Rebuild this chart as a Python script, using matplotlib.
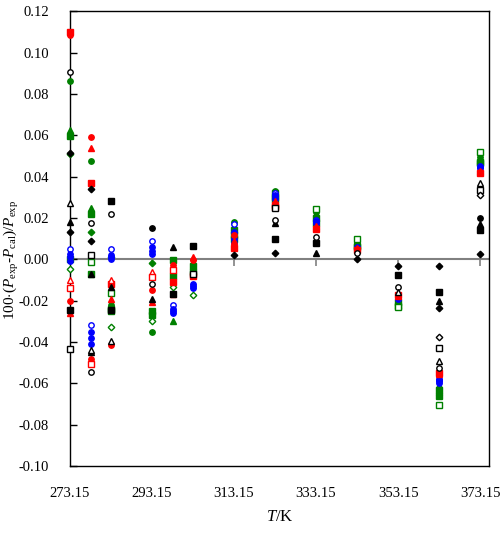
import numpy as np
import matplotlib
matplotlib.use("Agg")
import matplotlib.pyplot as plt

nan = np.nan
T = [273.15, 278.15, 283.15, 293.15, 298.15, 303.15, 313.15, 323.15, 333.15, 343.15, 353.15, 363.15, 373.15]
xtick_vals = [273.15, 293.15, 313.15, 333.15, 353.15, 373.15]
ytick_vals = [-0.10, -0.08, -0.06, -0.04, -0.02, 0.00, 0.02, 0.04, 0.06, 0.08, 0.10, 0.12]

# black series
k_fdiam = [0.0515, 0.0338, nan, nan, nan, nan, 0.0020, 0.0030, nan, 0.0000, -0.0032, -0.0034, 0.0024]
k_fdiam2 = [0.0132, 0.0087, nan, nan, nan, nan, nan, nan, nan, nan, nan, -0.0234, nan]
k_fsq = [-0.0247, nan, 0.0280, nan, -0.0166, 0.0064, nan, 0.0097, 0.0077, nan, -0.0075, -0.0158, 0.0144]
k_fsq2 = [nan, nan, -0.0247, nan, nan, nan, nan, nan, nan, nan, nan, nan, nan]
k_ftri = [0.0180, -0.0450, -0.0134, -0.0190, 0.0060, nan, nan, 0.0174, 0.0029, nan, nan, -0.0199, 0.0170]
k_ftri2 = [nan, -0.0069, nan, nan, nan, nan, nan, nan, nan, nan, nan, nan, nan]
k_ocirc = [0.0904, 0.0176, 0.0221, -0.0121, nan, nan, nan, 0.0189, 0.0108, 0.0030, -0.0135, -0.0525, nan]
k_ocirc2 = [nan, -0.0546, nan, nan, nan, nan, nan, nan, nan, nan, nan, nan, nan]
k_osq = [-0.0433, 0.0023, nan, nan, nan, -0.0070, nan, 0.0247, nan, nan, nan, -0.0430, 0.0334]
k_otri = [0.0273, -0.0440, -0.0396, nan, nan, nan, nan, nan, nan, nan, -0.0160, -0.0490, 0.0370]
k_odiam = [nan, nan, nan, nan, nan, nan, nan, nan, nan, nan, nan, -0.0376, 0.0310]
k_fcirc = [nan, nan, nan, 0.0152, nan, nan, nan, nan, nan, nan, nan, nan, 0.0202]

# red series
r_fcirc = [-0.0203, 0.0593, -0.0412, -0.0150, -0.0029, -0.0005, 0.0116, 0.0270, 0.0150, 0.0050, -0.0174, -0.0551, 0.0423]
r_fsq = [0.1100, 0.0370, -0.0118, nan, -0.0110, -0.0080, 0.0053, 0.0265, 0.0145, 0.0045, -0.0170, -0.0548, 0.0418]
r_ftri = [-0.0260, 0.0540, -0.0190, -0.0207, -0.0166, 0.0011, 0.0090, 0.0280, 0.0160, 0.0055, -0.0178, -0.0555, 0.0428]
r_fcirc2 = [0.1085, -0.0480, nan, nan, nan, nan, nan, nan, nan, nan, nan, nan, nan]
r_otri = [-0.0102, nan, -0.0098, -0.0062, nan, nan, nan, nan, nan, nan, nan, nan, nan]
r_osq = [-0.0139, -0.0506, nan, -0.0086, -0.0053, nan, nan, 0.0255, nan, nan, nan, nan, nan]

# blue series
b_ocirc = [0.0052, -0.0316, 0.0048, 0.0089, -0.0223, -0.0082, 0.0173, 0.0320, 0.0190, 0.0060, -0.0186, -0.0577, 0.0447]
b_fcirc = [0.0010, -0.0380, 0.0010, 0.0040, -0.0250, -0.0130, 0.0100, 0.0300, 0.0180, 0.0050, -0.0190, -0.0590, 0.0440]
b_fcirc2 = [-0.0010, -0.0410, 0.0000, 0.0025, -0.0260, -0.0140, 0.0080, 0.0310, 0.0185, 0.0045, -0.0188, -0.0600, 0.0445]
b_fcirc3 = [0.0025, -0.0350, 0.0020, 0.0060, -0.0240, -0.0120, 0.0130, 0.0290, 0.0175, 0.0055, -0.0184, -0.0585, 0.0450]

# green series
g_fcirc = [0.0864, 0.0476, -0.0223, -0.0349, -0.0078, -0.0053, 0.0180, 0.0330, 0.0228, 0.0080, -0.0210, -0.0620, 0.0496]
g_ftri = [0.0628, 0.0250, nan, nan, -0.0296, nan, 0.0155, 0.0310, 0.0210, 0.0070, -0.0220, -0.0640, 0.0480]
g_fsq = [0.0596, 0.0218, -0.0250, -0.0250, -0.0005, -0.0030, 0.0140, 0.0300, 0.0200, 0.0060, -0.0225, -0.0660, 0.0470]
g_osq = [nan, -0.0013, -0.0163, nan, nan, nan, 0.0120, 0.0320, 0.0246, 0.0097, -0.0230, -0.0703, 0.0520]
g_odiam = [-0.0045, nan, -0.0328, -0.0299, -0.0134, -0.0171, nan, nan, nan, nan, nan, nan, nan]
g_fdiam = [0.0510, 0.0132, 0.0010, -0.0018, nan, nan, nan, nan, nan, nan, nan, nan, nan]
g_fsq2 = [0.0000, -0.0069, -0.0240, -0.0270, -0.0080, -0.0060, 0.0100, 0.0290, 0.0174, 0.0065, -0.0205, -0.0630, 0.0464]

plt.rcParams['font.family'] = ['Liberation Serif', 'DejaVu Serif']
plt.rcParams['mathtext.fontset'] = 'custom'
plt.rcParams['mathtext.rm'] = 'Liberation Serif'
plt.rcParams['mathtext.it'] = 'Liberation Serif:italic'
plt.rcParams['axes.unicode_minus'] = False

fig = plt.figure(figsize=(5.04, 5.34), dpi=100)
ax = fig.add_axes([0.139, 0.127, 0.831, 0.852])

ax.axhline(0, color='#808080', lw=1.5, zorder=1)
ax.vlines(xtick_vals, -0.0032, 0, color='#808080', lw=1.2, zorder=1)

ms = 3.9
series = [
    (g_fsq2, 's', 'green', True), (g_fcirc, 'o', 'green', True), (g_ftri, '^', 'green', True),
    (g_fsq, 's', 'green', True), (g_osq, 's', 'green', False), (g_odiam, 'D', 'green', False),
    (g_fdiam, 'D', 'green', True),
    (b_ocirc, 'o', 'blue', False), (b_fcirc, 'o', 'blue', True), (b_fcirc2, 'o', 'blue', True),
    (b_fcirc3, 'o', 'blue', True),
    (r_fcirc, 'o', 'red', True), (r_fsq, 's', 'red', True), (r_ftri, '^', 'red', True),
    (r_fcirc2, 'o', 'red', True), (r_otri, '^', 'red', False), (r_osq, 's', 'red', False),
    (k_fdiam, 'D', 'black', True), (k_fdiam2, 'D', 'black', True), (k_fsq, 's', 'black', True),
    (k_fsq2, 's', 'black', True), (k_ftri, '^', 'black', True), (k_ftri2, '^', 'black', True),
    (k_ocirc, 'o', 'black', False), (k_ocirc2, 'o', 'black', False), (k_osq, 's', 'black', False),
    (k_otri, '^', 'black', False), (k_odiam, 'D', 'black', False), (k_fcirc, 'o', 'black', True),
]
for vals, mk, col, filled in series:
    size = ms * (0.85 if mk == 'D' else 1.0)
    ax.plot(T, vals, linestyle='none', marker=mk, markersize=size,
            markerfacecolor=col if filled else 'white', markeredgecolor=col,
            markeredgewidth=1.0, zorder=3, clip_on=False)

ax.set_xlim(273.15, 375.3)
ax.set_ylim(-0.10, 0.12)
ax.set_yticks(ytick_vals)
ax.set_yticklabels(['%.2f' % v for v in ytick_vals])
ax.set_xticks(xtick_vals)
ax.set_xticklabels(['%.2f' % v for v in xtick_vals])
ax.tick_params(axis='y', direction='in', length=5, width=1, labelsize=10.5, pad=15, right=False)
ax.tick_params(axis='x', length=0, labelsize=10.5, pad=15)
for s in ax.spines.values():
    s.set_linewidth(1.0)
    s.set_color('black')

ax.set_ylabel(r'100$\cdot$($P_{\rm exp}$-$P_{\rm cal}$)/$P_{\rm exp}$', fontsize=11)
ax.yaxis.set_label_coords(-0.117, 0.453)
ax.set_xlabel(r'$T$/K', fontsize=12)
ax.xaxis.set_label_coords(0.5, -0.095)

fig.savefig('out.png', dpi=100)
